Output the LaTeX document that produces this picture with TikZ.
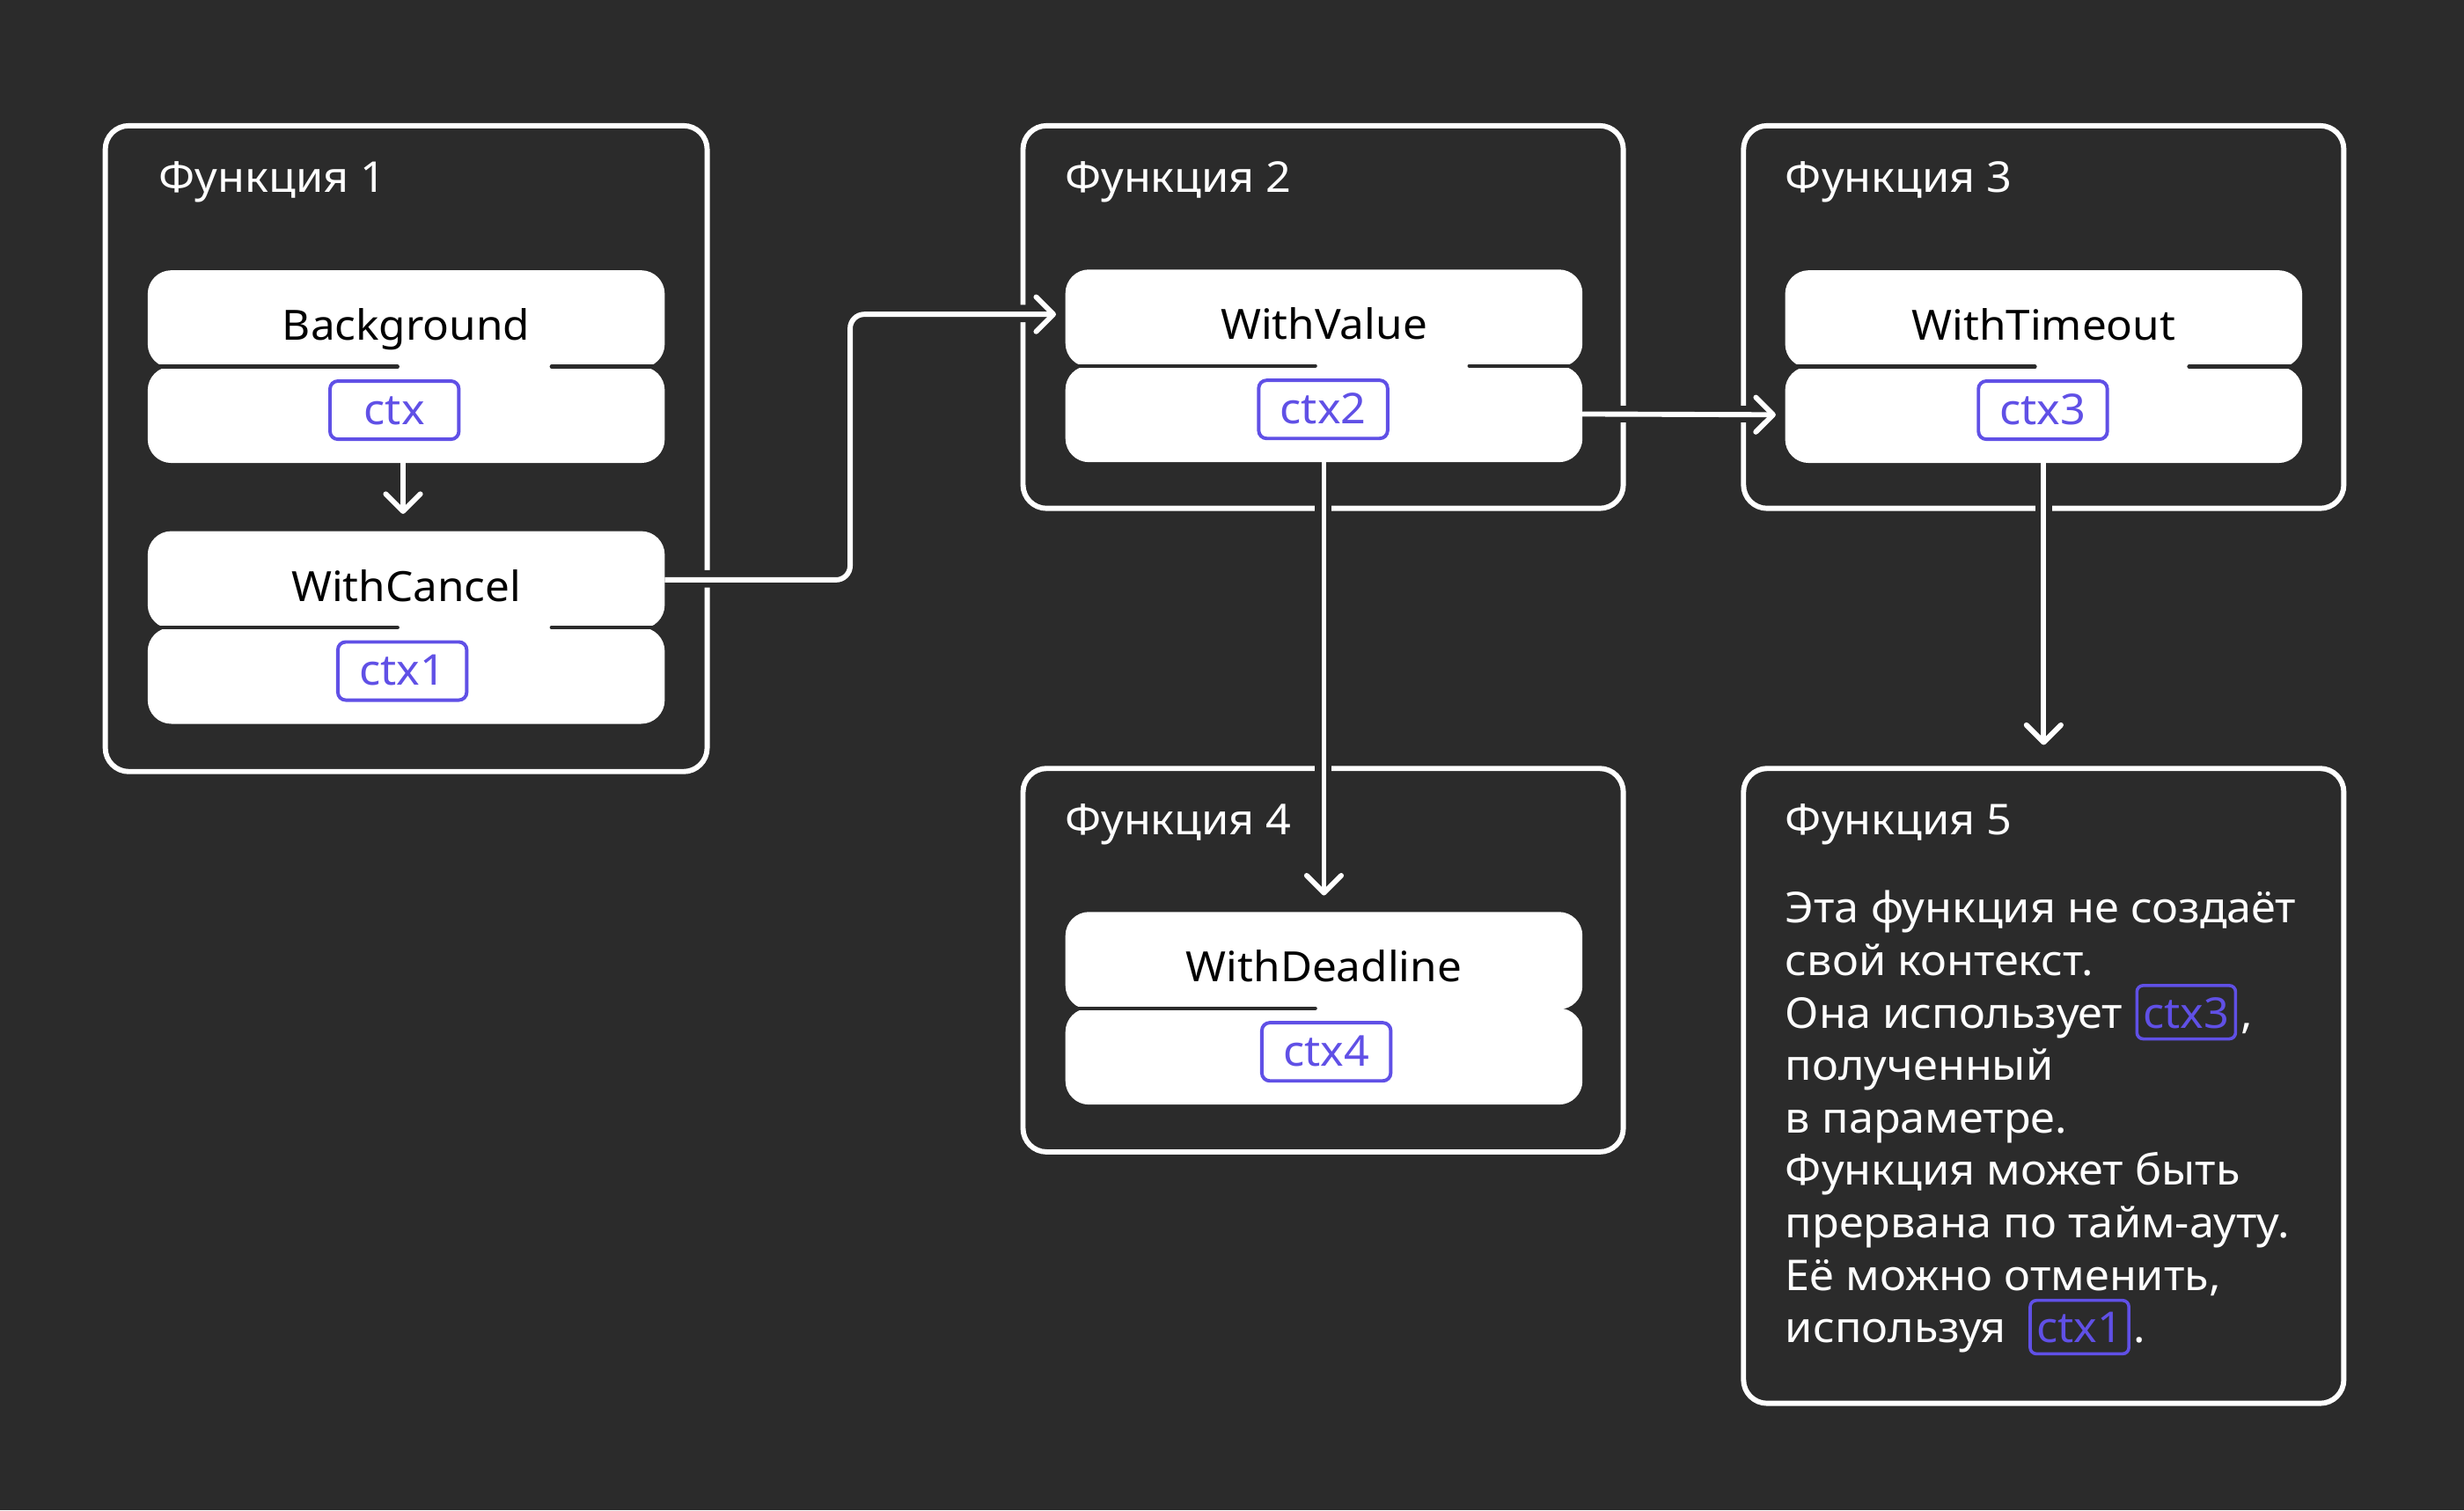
\documentclass[tikz,border=0pt]{standalone}
\usepackage{fontspec}
\setmainfont[FakeStretch=1.045]{Noto Sans}
\usetikzlibrary{arrows.meta}
\definecolor{bgc}{HTML}{2B2B2B}
\definecolor{pur}{HTML}{6050E6}

% #1 name, #2 left x, #3 top y, #4 label, #5 tag centre x, #6 tag label, #7 right separator (1/0)
\newcommand\ctxblock[7]{%
  \node[half, minimum height=62pt] (#1T) at (#2,#3) {};
  \node[half, minimum height=61.3pt] (#1B) at (#2,#3+61.3) {};
  \draw[sepline] (#2,#3+61.3) -- (#2+159,#3+61.3);
  \ifnum#7=1 \draw[sepline] (#2+257,#3+61.3) -- (#2+329,#3+61.3);\fi
  \node[btext] (#1L) at (#2+164.5,#3+44.5) {#4};
  \node[tag] (#1C) at (#5,#3+89) {#6};
}

\begin{document}
\begin{tikzpicture}[x=1pt,y=-1pt,
  frame/.style={draw=white, line width=3.3pt, rounded corners=15pt, inner sep=0pt, outer sep=0pt, anchor=north west},
  half/.style={fill=white, rounded corners=15pt, minimum width=329pt, inner sep=0pt, outer sep=0pt, anchor=north west},
  sepline/.style={draw=bgc, line width=2.4pt, line cap=round},
  btext/.style={font=\fontsize{26.5}{32}\selectfont, text=black, anchor=base, inner sep=0pt},
  tag/.style={draw=pur, line width=2.2pt, rounded corners=5pt, minimum width=82pt, minimum height=37pt, text height=18pt, text depth=0pt, inner sep=0pt, text=pur, font=\fontsize{27}{32}\selectfont},
  itag/.style={draw=pur, line width=2pt, rounded corners=4pt, text height=20pt, text depth=0pt, inner xsep=4pt, inner ysep=7pt, text=pur, font=\fontsize{27}{32}\selectfont, anchor=base west},
  title/.style={font=\fontsize{27}{32}\selectfont, text=white, anchor=base west, inner sep=0pt},
  ptext/.style={font=\fontsize{27}{32}\selectfont, text=white, anchor=base west, inner sep=0pt},
  conn/.style={draw=white, line width=3.3pt, -{Straight Barb[length=11pt,width=22pt,round]}},
  halo/.style={draw=bgc, line width=11pt},
]
\fill[bgc] (0,0) rectangle (1568,961);

% frames
\node[frame, minimum width=383pt, minimum height=411pt] (f1) at (67,80) {};
\node[frame, minimum width=382pt, minimum height=243.5pt] (f2) at (651,80) {};
\node[frame, minimum width=382pt, minimum height=243.5pt] (f3) at (1109.5,80) {};
\node[frame, minimum width=382pt, minimum height=244pt] (f4) at (651,489) {};
\node[frame, minimum width=382pt, minimum height=404pt] (f5) at (1109.5,489) {};

% halo coordinates (for gaps in frame borders)
\coordinate (h2a) at (423,368.3);
\coordinate (h2b) at (672,199.5);
\draw[halo, rounded corners=9pt] (h2a) -- (541,368.3) |- (h2b);
\draw[halo] (1006,263.5) -- (1124,263.5);
\draw[halo] (842,294.4) -- (842,568);
\draw[halo] (1300.5,294) -- (1300.5,472);

% blocks
\ctxblock{bg}{94}{172}{Background}{251}{ctx}{1}
\ctxblock{wc}{94}{338}{WithCancel}{256}{ctx1}{1}
\ctxblock{wv}{678}{171.5}{WithValue}{842}{ctx2}{1}
\ctxblock{wt}{1136}{172}{WithTimeout}{1300}{ctx3}{1}
\ctxblock{wd}{678}{580.3}{WithDeadline}{844}{ctx4}{0}

% connectors
\draw[conn, shorten >=11pt] ([xshift=-2pt]bgB.south) -- ([xshift=-2pt]wcT.north);
\draw[conn, rounded corners=9pt, shorten >=6pt] (wcT.east) -- ([xshift=118pt]wcT.east) |- ([yshift=2.5pt]wvT.west);
\draw[conn, shorten >=6pt] (wvB.east) -- (wtB.west);
\draw[conn, shorten >=10.5pt] (wvB.south) -- (wdT.north);
\draw[conn, shorten >=15pt] (wtB.south) -- (f5.north);

% titles
\node[title] (t1) at (101,122.4) {Функция 1};
\node[title] (t2) at (677.5,122.4) {Функция 2};
\node[title] (t3) at (1136,122.4) {Функция 3};
\node[title] (t4) at (677.5,531) {Функция 4};
\node[title] (t5) at (1136,531) {Функция 5};

% paragraph
\node[ptext] (p1) at (1136,587.3) {Эта функция не создаёт};
\node[ptext] (p2) at (1136,620.7) {свой контекст.};
\node[ptext] (p3) at (1136,654.1) {Она использует};
\node[itag] (i3) at ([xshift=8pt]p3.base east) {ctx3};
\node[ptext] (c3) at ([xshift=2pt]i3.base east) {,};
\node[ptext] (p4) at (1136,687.5) {полученный};
\node[ptext] (p5) at (1136,720.9) {в параметре.};
\node[ptext] (p6) at (1136,754.3) {Функция может быть};
\node[ptext] (p7) at (1136,787.7) {прервана по тайм-ауту.};
\node[ptext] (p8) at (1136,821.1) {Её можно отменить,};
\node[ptext] (p9) at (1136,854.5) {используя};
\node[itag] (i9) at ([xshift=14pt]p9.base east) {ctx1};
\node[ptext] (c9) at ([xshift=2pt]i9.base east) {.};
\end{tikzpicture}
\end{document}
